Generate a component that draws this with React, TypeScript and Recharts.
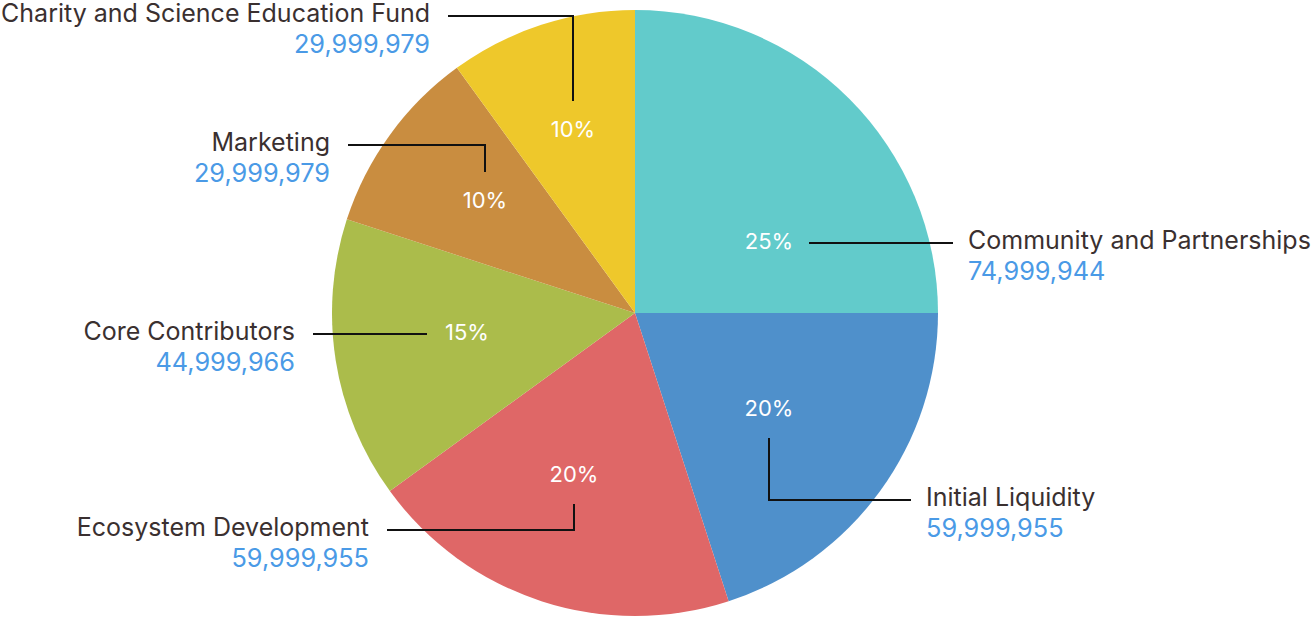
import { PieChart, Pie, Cell } from 'recharts';

const names = [
  'Community and Partnerships',
  'Initial Liquidity',
  'Ecosystem Development',
  'Core Contributors',
  'Marketing',
  'Charity and Science Education Fund',
];
const amounts = [74999944, 59999955, 59999955, 44999966, 29999979, 29999979];
const colors = ['#62CBCB', '#4F90CB', '#DF6767', '#ABBC4B', '#C98D40', '#EEC82B'];

// callout layout, px offsets from the pie centre
// p = percent label, lineY/lineX = where the leader line runs and ends
const callouts = [
  { px: 134, py: -72, lineY: -70, lineX: 318 },
  { px: 134, py: 95, lineY: 187, lineX: 276 },
  { px: -61, py: 161, lineY: 217, lineX: -248 },
  { px: -168, py: 19, lineY: 21, lineX: -322 },
  { px: -150, py: -113, lineY: -168, lineX: -287 },
  { px: -62, py: -184, lineY: -297, lineX: -187 },
];

const data = names.map((name, i) => ({ name, value: amounts[i] }));

const fmt = (n: number) => n.toLocaleString('en-US');

function renderLabel(props: any) {
  const { cx, cy, index, percent, value, name } = props;
  const c = callouts[index];
  const lx = cx + c.px;
  const ly = cy + c.py;
  const lineY = cy + c.lineY;
  const endX = cx + c.lineX;
  const right = c.lineX > c.px;
  let pts: string;
  if (Math.abs(c.lineY - c.py) < 6) {
    const sx = lx + (right ? 40 : -40);
    pts = `${sx},${lineY} ${endX},${lineY}`;
  } else {
    const sy = ly + (c.lineY > c.py ? 30 : -28);
    pts = `${lx},${sy} ${lx},${lineY} ${endX},${lineY}`;
  }
  const tx = endX + (right ? 15 : -18);
  const anchor = right ? 'start' : 'end';
  return (
    <g key={`lbl-${index}`}>
      <text x={lx} y={ly} fill="#fff" fontSize={22} textAnchor="middle" dominantBaseline="central">
        {`${Math.round(percent * 100)}%`}
      </text>
      <polyline points={pts} fill="none" stroke="#111" strokeWidth={2} />
      <text x={tx} y={lineY - 3} fill="#3A3030" fontSize={25} textAnchor={anchor} dominantBaseline="central">
        {name}
      </text>
      <text x={tx} y={lineY + 27} fill="#4A9AE6" fontSize={25.3} textAnchor={anchor} dominantBaseline="central">
        {fmt(value)}
      </text>
    </g>
  );
}

export default function App() {
  return (
    <div style={{ position: 'absolute', left: 0, top: 0, fontFamily: 'Inter, sans-serif' }}>
      <PieChart width={1316} height={619} margin={{ top: 0, right: 0, bottom: 0, left: 0 }}>
        <Pie
          data={data}
          dataKey="value"
          nameKey="name"
          cx={635}
          cy={313}
          outerRadius={303}
          startAngle={90}
          endAngle={-270}
          stroke="none"
          labelLine={false}
          label={renderLabel}
          isAnimationActive={false}
        >
          {data.map((d, i) => (
            <Cell key={d.name} fill={colors[i]} />
          ))}
        </Pie>
      </PieChart>
    </div>
  );
}
